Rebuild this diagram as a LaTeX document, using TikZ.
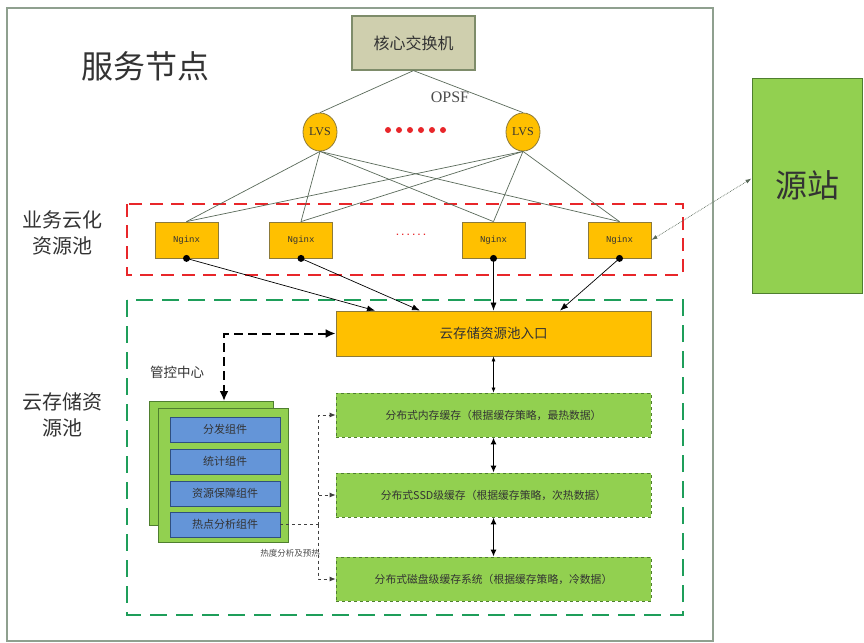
\documentclass[tikz,border=0pt]{standalone}
\usepackage{fontspec}
\setmainfont{Noto Sans CJK SC}
\newfontfamily\lserif{Liberation Serif}
\newfontfamily\lmono{Liberation Mono}
\usetikzlibrary{shapes.geometric,arrows.meta}
\definecolor{frameC}{HTML}{8FA08F}
\definecolor{coreF}{HTML}{CFCFAE}
\definecolor{coreD}{HTML}{7E8C6A}
\definecolor{orF}{HTML}{FFC000}
\definecolor{orD}{HTML}{8C7A3A}
\definecolor{grF}{HTML}{92D050}
\definecolor{grD}{HTML}{4F7F2F}
\definecolor{blF}{HTML}{6495D8}
\definecolor{blD}{HTML}{2F4F80}
\definecolor{lineC}{HTML}{5A6A5A}
\definecolor{txt}{HTML}{333333}
\definecolor{redD}{HTML}{E8262A}
\definecolor{greenD}{HTML}{1E9E5A}
\tikzset{
  fs/.style={font=\fontsize{#1}{#1}\selectfont},
  corebox/.style={draw=coreD,fill=coreF,line width=1.2pt,minimum width=123pt,minimum height=54pt,inner sep=0pt,text=txt,fs=16},
  lvs/.style={ellipse,draw=orD,fill=orF,line width=0.8pt,minimum width=34pt,minimum height=38pt,inner sep=0pt,text=txt,font=\lserif\fontsize{12}{12}\selectfont},
  nginx/.style={draw=orD,fill=orF,line width=0.8pt,minimum width=63pt,minimum height=36pt,inner sep=0pt,text=txt,font=\lmono\fontsize{9}{9}\selectfont},
  entry/.style={draw=orD,fill=orF,line width=0.8pt,minimum width=315pt,minimum height=45pt,inner sep=0pt,text=txt,fs=13.5},
  cache/.style={draw=grD,fill=grF,dashed,line width=0.8pt,minimum width=315pt,minimum height=44pt,inner sep=0pt,text=txt,fs=10.8},
  stack/.style={draw=grD,fill=grF,line width=0.8pt,inner sep=0pt},
  comp/.style={draw=blD,fill=blF,line width=0.8pt,minimum width=110pt,minimum height=25pt,inner sep=0pt,text=txt,fs=11},
  link/.style={draw=lineC,line width=0.7pt},
  feed/.style={draw=black,line width=0.7pt,-{Latex[length=8pt,width=6pt]}},
  lbl/.style={text=txt,inner sep=0pt},
}
\begin{document}
\begin{tikzpicture}[x=1pt,y=-1pt]
\useasboundingbox (0,0) rectangle (864,642);
\fill[white] (0,0) rectangle (864,642);
% outer frame
\draw[frameC,line width=1.5pt] (7,8) rectangle (713,641);
% pools
\draw[redD,line width=2.6pt,dash pattern=on 13pt off 8pt] (127,204) rectangle (683,275);
\draw[greenD,line width=2.2pt,dash pattern=on 17pt off 9pt] (127,300) rectangle (683,615);
% labels
\node[lbl,fs=32] (title) at (145,66) {服务节点};
\node[lbl,fs=20,align=center] (poolA) at (62,233) {业务云化\\[6pt]资源池};
\node[lbl,fs=20,align=center] (poolB) at (62,415) {云存储资\\[6pt]源池};
\node[lbl,fs=13.5] (ctrl) at (177,372) {管控中心};
% core and LVS
\node[corebox] (core) at (413.5,43) {核心交换机};
\node[lvs] (lvs1) at (320,132) {LVS};
\node[lvs] (lvs2) at (523,132) {LVS};
\node[lbl,text=black!70,font=\lserif\fontsize{16}{16}\selectfont] (opsf) at (450,97) {OPSF};
\foreach \i in {0,...,5} \fill[redD] (388+\i*11,130) circle (3pt);
% nginx
\node[nginx] (n1) at (186.5,240) {Nginx};
\node[nginx] (n2) at (301,240) {Nginx};
\node[nginx] (n3) at (493.5,240) {Nginx};
\node[nginx] (n4) at (619.5,240) {Nginx};
\node[lbl,text=redD,font=\lmono\bfseries\fontsize{9}{9}\selectfont] (ndots) at (411,235) {......};
% source
\node[draw=grD,fill=grF,line width=1pt,minimum width=110pt,minimum height=215pt,inner sep=0pt,text=txt,fs=32] (src) at (807,185.5) {源站};
% links
\draw[link] (core.south) -- (lvs1.north);
\draw[link] (core.south) -- (lvs2.north);
\foreach \l in {lvs1,lvs2}{
  \foreach \n in {n1,n2,n3,n4}{
    \draw[link] (\l.south) -- (\n.north);
  }
}
% entrance
\node[entry] (entry) at (493.5,333.5) {云存储资源池入口};
\draw[feed] (n1.south) -- ([xshift=-118.5pt]entry.north);
\draw[feed] (n2.south) -- ([xshift=-73.5pt]entry.north);
\draw[feed] (n3.south) -- (entry.north);
\draw[feed] (n4.south) -- ([xshift=66.5pt]entry.north);
\foreach \n in {n1,n2,n3,n4} \fill[black] (\n.south) circle (3.5pt);
\draw[densely dotted,draw=lineC,line width=0.7pt,{Latex[length=6pt,width=4pt]}-{Latex[length=6pt,width=4pt]}] ([yshift=7pt]src.west) -- (n4.east);
% caches
\node[cache] (c1) at (493.5,415) {分布式内存缓存（根据缓存策略，最热数据）};
\node[cache] (c2) at (493.5,495) {分布式SSD级缓存（根据缓存策略，次热数据）};
\node[cache] (c3) at (493.5,579) {分布式磁盘级缓存系统（根据缓存策略，冷数据）};
\draw[black,line width=0.6pt,{Latex[length=5pt,width=4pt]}-{Latex[length=5pt,width=4pt]}] (entry.south) -- (c1.north);
\draw[black,line width=1.3pt,{Latex[length=7pt,width=6pt]}-{Latex[length=7pt,width=6pt]}] (c1.south) -- (c2.north);
\draw[black,line width=1.3pt,{Latex[length=7pt,width=6pt]}-{Latex[length=7pt,width=6pt]}] (c2.south) -- (c3.north);
% control center stack
\node[stack,minimum width=124pt,minimum height=124pt] (back) at (211,463) {};
\node[stack,minimum width=130pt,minimum height=134pt] (front) at (223,475) {};
\node[comp] (b1) at (225,429.5) {分发组件};
\node[comp] (b2) at (225,461.5) {统计组件};
\node[comp] (b3) at (225,493.5) {资源保障组件};
\node[comp] (b4) at (225,524.5) {热点分析组件};
% control dashed arrow
\coordinate (ctl) at (224,401);
\draw[black,line width=2pt,dash pattern=on 9pt off 5pt,{Latex[length=10pt,width=9pt]}-{Latex[length=10pt,width=9pt]}] (entry.west) -| (ctl);
% heat analysis
\coordinate (hb) at (318,524.5);
\draw[black!75,dashed,line width=0.8pt] (b4.east) -- (hb);
\draw[black!75,dashed,line width=0.8pt,-{Latex[length=6pt,width=5pt]}] (hb) |- (c1.west);
\draw[black!75,dashed,line width=0.8pt,-{Latex[length=6pt,width=5pt]}] (hb) |- (c2.west);
\draw[black!75,dashed,line width=0.8pt,-{Latex[length=6pt,width=5pt]}] (hb) |- (c3.west);
\node[lbl,fs=8.5,text=black!70] (heat) at (290,553) {热度分析及预热};
\end{tikzpicture}
\end{document}
